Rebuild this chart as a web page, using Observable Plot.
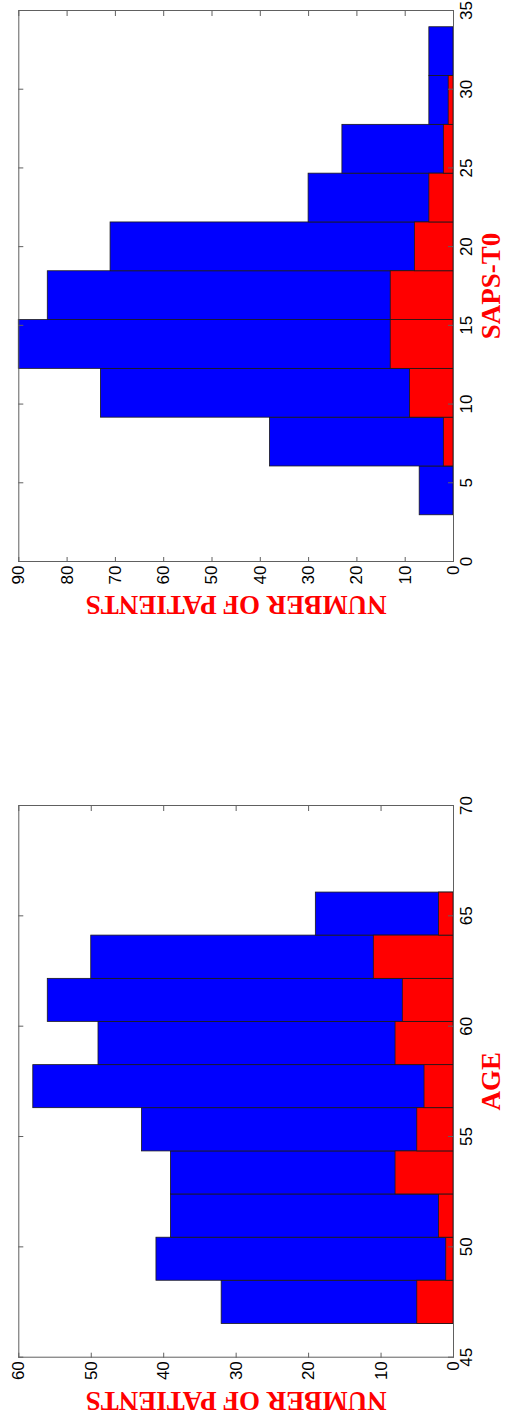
<!DOCTYPE html>
<html><head><meta charset="utf-8">
<script src="https://cdn.jsdelivr.net/npm/d3@7"></script>
<script src="https://cdn.jsdelivr.net/npm/@observablehq/plot@0.6"></script>
<style>
html,body{margin:0;padding:0;background:#fff;overflow:hidden;width:505px;height:1422px;}
#rot{position:absolute;left:0;top:0;width:1422px;height:505px;transform-origin:0 0;transform:translate(0px,1422px) rotate(-90deg);}
</style></head><body><div id="rot"></div>
<script>
// AGE histogram (left panel in the unrotated figure)
const ageEdges = [46.55, 48.51, 50.46, 52.42, 54.37, 56.33, 58.28, 60.24, 62.19, 64.15, 66.1];
const ageAll = [32, 41, 39, 39, 43, 58, 49, 56, 50, 19];
const ageSub = [5, 1, 2, 8, 5, 4, 8, 7, 11, 2];
const ageXTicks = [45, 50, 55, 60, 65, 70];
const ageYTicks = [0, 10, 20, 30, 40, 50, 60];

// SAPS-T0 histogram (right panel in the unrotated figure)
const sapsEdges = [3, 6.1, 9.2, 12.3, 15.4, 18.5, 21.6, 24.7, 27.8, 30.9, 34];
const sapsAll = [7, 38, 73, 90, 84, 71, 30, 23, 5, 5];
const sapsSub = [0, 2, 9, 13, 13, 8, 5, 2, 1, 0];
const sapsXTicks = [0, 5, 10, 15, 20, 25, 30, 35];
const sapsYTicks = [0, 10, 20, 30, 40, 50, 60, 70, 80, 90];

const yLabel = "NUMBER OF PATIENTS";

function panel({edges, all, sub, xDomain, yDomain, xTicks, yTicks, xLabel, width, ml, mr, left}) {
  const H = 505, mt = 18.3, mb = 52;
  const fw = width - ml - mr, fh = H - mt - mb;
  const bins = all.map((v, i) => ({x1: edges[i], x2: edges[i + 1], total: v, sub: sub[i]}));
  const axisColor = "#606060";
  const labelFont = {fontFamily: "Liberation Serif", fontWeight: "bold", fontSize: 27, fill: "#ff0000",
                     textAnchor: "middle", lineAnchor: "middle"};
  const p = Plot.plot({
    width, height: H, marginLeft: ml, marginRight: mr, marginTop: mt, marginBottom: mb,
    x: {domain: xDomain},
    y: {domain: yDomain},
    style: {background: "transparent", overflow: "visible"},
    marks: [
      Plot.rectY(bins, {x1: "x1", x2: "x2", y1: 0, y2: "total", fill: "#0000ff", stroke: "#1a1a1a", strokeWidth: 0.8}),
      Plot.rectY(bins.filter(d => d.sub > 0), {x1: "x1", x2: "x2", y1: 0, y2: "sub", fill: "#ff0000", stroke: "#1a1a1a", strokeWidth: 0.8}),
      Plot.ruleX(xTicks, {insetTop: fh - 5, stroke: axisColor}),
      Plot.ruleX(xTicks, {insetBottom: fh - 5, stroke: axisColor}),
      Plot.ruleY(yTicks, {insetRight: fw - 5, stroke: axisColor}),
      Plot.ruleY(yTicks, {insetLeft: fw - 5, stroke: axisColor}),
      Plot.frame({stroke: axisColor}),
      Plot.axisX(xTicks, {tickSize: 0, tickPadding: 6, fontSize: 17, fontFamily: "Liberation Sans", fill: "#000", label: null}),
      Plot.axisY(yTicks, {tickSize: 0, tickPadding: 4, fontSize: 17, fontFamily: "Liberation Sans", fill: "#000", label: null}),
      Plot.text([xLabel], {frameAnchor: "bottom", dy: 38, ...labelFont}),
      Plot.text([yLabel], {frameAnchor: "left", dx: -43.5, rotate: -90, ...labelFont})
    ]
  });
  p.style.position = "absolute";
  p.style.left = left + "px";
  p.style.top = "0px";
  p.style.maxWidth = "none";
  document.getElementById("rot").appendChild(p);
}

panel({edges: ageEdges, all: ageAll, sub: ageSub, xDomain: [45, 70], yDomain: [0, 60],
  xTicks: ageXTicks, yTicks: ageYTicks, xLabel: "AGE", width: 700, ml: 64.3, mr: 84, left: 0});
panel({edges: sapsEdges, all: sapsAll, sub: sapsSub, xDomain: [0, 35], yDomain: [0, 90],
  xTicks: sapsXTicks, yTicks: sapsYTicks, xLabel: "SAPS-T0", width: 662, ml: 100, mr: 11, left: 760});
</script></body></html>
